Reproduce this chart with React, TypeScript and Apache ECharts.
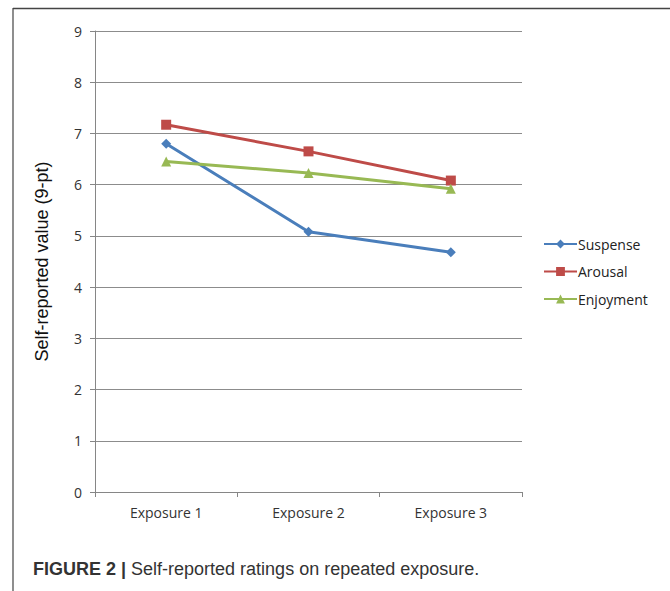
import React, { useEffect, useRef } from "react";
import * as echarts from "echarts";

const categories = ["Exposure 1", "Exposure 2", "Exposure 3"];
const suspense = [6.8, 5.08, 4.68];
const arousal = [7.17, 6.65, 6.08];
const enjoyment = [6.45, 6.23, 5.92];
const yTicks = { min: 0, max: 9, interval: 1 };

export default function App() {
  const ref = useRef<HTMLDivElement>(null);
  useEffect(() => {
    if (!ref.current) return;
    const chart = echarts.init(ref.current, undefined, { renderer: "svg" });
    const font = "'Open Sans', 'Noto Sans', sans-serif";
    const mk = (name: string, data: number[], color: string, symbol: string, size: number) => ({
      name,
      type: "line",
      data,
      symbol,
      symbolSize: size,
      showSymbol: true,
      lineStyle: { color, width: 3 },
      itemStyle: { color },
    });
    chart.setOption({
      animation: false,
      backgroundColor: "#fff",
      grid: { left: 95, right: 148, top: 31, bottom: 99 },
      xAxis: {
        type: "category",
        data: categories,
        boundaryGap: true,
        axisLine: { lineStyle: { color: "#868686", width: 1 } },
        axisTick: { show: true, length: 5, inside: false, lineStyle: { color: "#868686" } },
        axisLabel: { color: "#333", fontSize: 14, fontFamily: font, margin: 13 },
        splitLine: { show: false },
      },
      yAxis: {
        type: "value",
        min: yTicks.min,
        max: yTicks.max,
        interval: yTicks.interval,
        name: "Self-reported value (9-pt)",
        nameLocation: "middle",
        nameGap: 44,
        nameTextStyle: { color: "#111", fontSize: 18, fontFamily: "'Liberation Sans', Arial, sans-serif" },
        axisLine: { show: true, lineStyle: { color: "#868686", width: 1 } },
        axisTick: { show: true, length: 5, lineStyle: { color: "#868686" } },
        axisLabel: { color: "#333", fontSize: 14, fontFamily: font, margin: 13 },
        splitLine: { show: true, lineStyle: { color: "#8c8c8c", width: 1 } },
      },
      legend: {
        orient: "vertical",
        left: 538,
        top: 232,
        itemWidth: 33,
        itemHeight: 11,
        itemGap: 13.5,
        textStyle: { color: "#222", fontSize: 14, fontFamily: font, padding: [0, 0, 0, -4] },
        data: ["Suspense", "Arousal", "Enjoyment"],
      },
      series: [
        mk("Suspense", suspense, "#4A7EBB", "diamond", 10),
        mk("Arousal", arousal, "#BE4B48", "rect", 10),
        mk("Enjoyment", enjoyment, "#98B954", "triangle", 10),
      ],
      graphic: [
        { type: "line", shape: { x1: 13, y1: 8.5, x2: 670, y2: 8.5 }, style: { stroke: "#444", lineWidth: 1.5 } },
        { type: "line", shape: { x1: 13, y1: 8, x2: 13, y2: 591 }, style: { stroke: "#444", lineWidth: 1.2 } },
        {
          type: "text",
          left: 33,
          top: 560,
          style: {
            text: "{b|FIGURE 2 |} Self-reported ratings on repeated exposure.",
            rich: {
              b: { fontWeight: "bold", fontSize: 18, fill: "#333", fontFamily: "'Liberation Sans', Arial, sans-serif" },
            },
            fontSize: 18,
            fill: "#333",
            fontFamily: "'Liberation Sans', Arial, sans-serif",
          },
        },
      ],
    });
    return () => chart.dispose();
  }, []);
  return <div ref={ref} style={{ width: 670, height: 591, position: "absolute", left: 0, top: 0 }} />;
}
